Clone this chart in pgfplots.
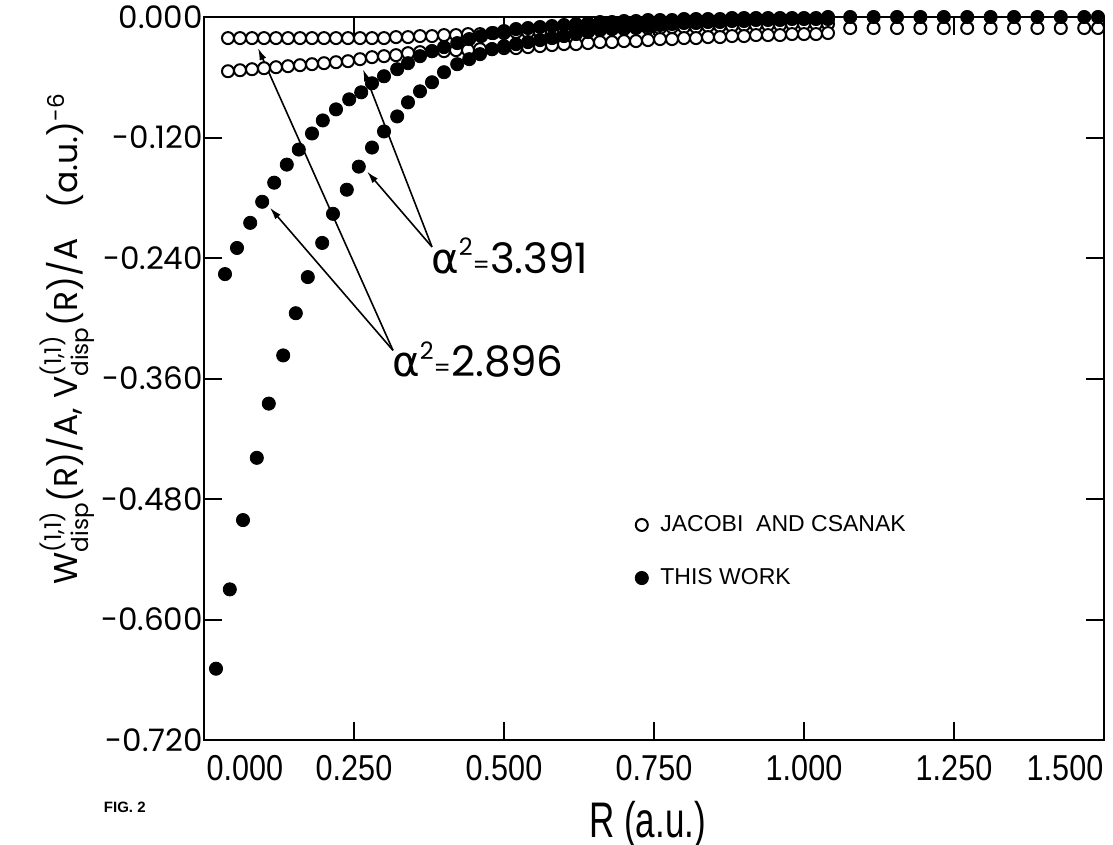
\documentclass[border=0pt]{standalone}
\usepackage{fontspec}
\setmainfont{Poppins}
\newfontfamily\greekfont{DejaVu Sans}
\newfontfamily\helv{Liberation Sans}
\usepackage{amsmath}
\usepackage{graphicx}
\usepackage{pgfplots}
\pgfplotsset{compat=1.18}
\usetikzlibrary{arrows.meta}

\newcommand\xt[1]{\scalebox{0.85}[1]{#1}}
\newcommand\alphasq{{\greekfont\char"03B1}\raisebox{0.75ex}{\fontsize{12}{12}\selectfont 2}}

\begin{document}
\begin{tikzpicture}
\useasboundingbox (-102pt,-52.5pt) rectangle (454.5pt,370pt);
\begin{axis}[
  at={(0,0)}, anchor=south west,
  scale only axis, width=450pt, height=361.5pt,
  xmin=0, xmax=1.5, ymin=-0.72, ymax=0,
  clip=false,
  axis line style={line width=1.2pt},
  tick style={line width=1pt, black},
  major tick length=9pt, tick align=inside,
  xtick={0.25,0.5,0.75,1,1.25},
  xticklabels={\xt{0.250},\xt{0.500},\xt{0.750},\xt{1.000},\xt{1.250}},
  extra x ticks={0.068,1.435},
  extra x tick labels={\xt{0.000},\xt{1.500}},
  extra x tick style={major tick length=0pt},
  x tick label style={font=\helv\fontsize{18}{20}\selectfont, yshift=-4pt},
  ytick={-0.72,-0.6,-0.48,-0.36,-0.24,-0.12,0},
  yticklabels={-0.720,-0.600,-0.480,-0.360,-0.240,-0.120,0.000},
  y tick label style={font=\fontsize{15.5}{18}\selectfont, xshift=3pt},
  xlabel={\scalebox{0.7}[1]{R (a.u.)}},
  xlabel style={at={(axis description cs:0.493,-0.117)}, anchor=center,
    font=\helv\fontsize{25}{28}\selectfont},
  ylabel={W$^{\text{(1,1)}}_{\text{disp}}$(R)/A, V$^{\text{(1,1)}}_{\text{disp}}$(R)/A\hspace{0.9em}(a.u.)$^{\text{-6}}$},
  ylabel style={at={(axis description cs:-0.152,0.555)}, anchor=center,
    font=\fontsize{16.5}{20}\selectfont},
  legend style={at={(axis cs:0.718,-0.492)}, anchor=north west, draw=none,
    fill=none, inner sep=0pt, row sep=13pt,
    font=\helv\fontsize{11.5}{13}\selectfont,
    /tikz/every odd column/.append style={column sep=4pt}},
  legend cell align=left,
  legend image code/.code={\draw[#1] plot coordinates {(0.15cm,0cm)};},
]
% Jacobi and Csanak, alpha^2 = 2.896 (upper open row)
\addplot[only marks, mark=*, mark size=3pt, mark options={fill=white, draw=black, line width=1pt}]
coordinates {
(0.04,-0.021) (0.06,-0.021) (0.08,-0.021) (0.10,-0.021) (0.12,-0.021) (0.14,-0.021)
(0.16,-0.021) (0.18,-0.021) (0.20,-0.021) (0.22,-0.021) (0.24,-0.021) (0.26,-0.021)
(0.28,-0.021) (0.30,-0.021) (0.32,-0.020) (0.34,-0.020) (0.36,-0.019) (0.38,-0.019)
(0.40,-0.018) (0.42,-0.018) (0.44,-0.017) (0.46,-0.017) (0.48,-0.016) (0.50,-0.016)
(0.52,-0.015) (0.54,-0.015) (0.56,-0.015) (0.58,-0.014) (0.60,-0.014) (0.62,-0.014)
(0.64,-0.013) (0.66,-0.013) (0.68,-0.012) (0.70,-0.012) (0.72,-0.011) (0.74,-0.011)
(0.76,-0.011) (0.78,-0.010) (0.80,-0.010) (0.82,-0.010) (0.84,-0.009) (0.86,-0.009)
(0.88,-0.009) (0.90,-0.008) (0.92,-0.008) (0.94,-0.008) (0.96,-0.008) (0.98,-0.007)
(1.00,-0.007) (1.02,-0.007) (1.04,-0.007)
};
\addlegendentry{JACOBI\ \ AND CSANAK}
% Jacobi and Csanak, alpha^2 = 3.391 (lower open row)
\addplot[only marks, mark=*, mark size=3pt, mark options={fill=white, draw=black, line width=1pt}, forget plot]
coordinates {
(0.04,-0.054) (0.06,-0.053) (0.08,-0.052) (0.10,-0.051) (0.12,-0.050) (0.14,-0.049)
(0.16,-0.048) (0.18,-0.047) (0.20,-0.046) (0.22,-0.045) (0.24,-0.044) (0.26,-0.042)
(0.28,-0.040) (0.30,-0.039) (0.32,-0.038) (0.34,-0.036) (0.36,-0.035) (0.38,-0.034)
(0.40,-0.034) (0.42,-0.033) (0.44,-0.033) (0.46,-0.032) (0.48,-0.032) (0.50,-0.031)
(0.52,-0.031) (0.54,-0.030) (0.56,-0.029) (0.58,-0.028) (0.60,-0.027) (0.62,-0.027)
(0.64,-0.026) (0.66,-0.025) (0.68,-0.025) (0.70,-0.024) (0.72,-0.024) (0.74,-0.023)
(0.76,-0.022) (0.78,-0.022) (0.80,-0.021) (0.82,-0.021) (0.84,-0.020) (0.86,-0.020)
(0.88,-0.019) (0.90,-0.019) (0.92,-0.018) (0.94,-0.018) (0.96,-0.018) (0.98,-0.017)
(1.00,-0.017) (1.02,-0.017) (1.04,-0.016)
(1.077,-0.011) (1.116,-0.011) (1.155,-0.011) (1.194,-0.011) (1.233,-0.011) (1.272,-0.011)
(1.311,-0.011) (1.350,-0.011) (1.389,-0.011) (1.428,-0.011) (1.467,-0.011) (1.490,-0.011)
};
% this work, alpha^2 = 2.896
\addplot[only marks, mark=*, mark size=3.3pt, mark options={fill=black, draw=black}]
coordinates {
(0.035,-0.256) (0.055,-0.230) (0.077,-0.205) (0.097,-0.184) (0.117,-0.165) (0.138,-0.147)
(0.158,-0.132) (0.180,-0.116) (0.198,-0.103) (0.220,-0.092) (0.242,-0.082) (0.262,-0.075)
(0.280,-0.066) (0.300,-0.059) (0.322,-0.052) (0.340,-0.046) (0.360,-0.039) (0.380,-0.034)
(0.400,-0.030) (0.422,-0.026) (0.442,-0.022) (0.462,-0.019) (0.482,-0.016) (0.50,-0.014)
(0.52,-0.012) (0.54,-0.011) (0.56,-0.010) (0.58,-0.009) (0.60,-0.008) (0.62,-0.007)
(0.64,-0.006) (0.66,-0.005) (0.68,-0.005) (0.70,-0.004) (0.72,-0.004) (0.74,-0.003)
(0.76,-0.003) (0.78,-0.003) (0.80,-0.002) (0.82,-0.002) (0.84,-0.002) (0.86,-0.002)
(0.88,-0.001) (0.90,-0.001) (0.92,-0.001) (0.94,-0.001) (0.96,-0.001) (0.98,-0.001)
(1.00,-0.001) (1.02,-0.001) (1.04,0.000)
(1.077,0.000) (1.116,0.000) (1.155,0.000) (1.194,0.000) (1.233,0.000) (1.272,0.000)
(1.311,0.000) (1.350,0.000) (1.389,0.000) (1.428,0.000) (1.467,0.000) (1.490,0.000)
};
\addlegendentry{THIS WORK}
% this work, alpha^2 = 3.391
\addplot[only marks, mark=*, mark size=3.3pt, mark options={fill=black, draw=black}, forget plot]
coordinates {
(0.020,-0.649) (0.043,-0.570) (0.065,-0.501) (0.088,-0.439) (0.108,-0.385) (0.132,-0.337)
(0.153,-0.295) (0.173,-0.259) (0.197,-0.225) (0.215,-0.196) (0.238,-0.172) (0.258,-0.149)
(0.280,-0.130) (0.300,-0.114) (0.322,-0.099) (0.340,-0.085) (0.360,-0.074) (0.380,-0.065)
(0.400,-0.055) (0.422,-0.047) (0.442,-0.042) (0.460,-0.037) (0.480,-0.032) (0.50,-0.029)
(0.52,-0.027) (0.54,-0.025) (0.56,-0.023) (0.58,-0.021) (0.60,-0.019) (0.62,-0.017)
(0.64,-0.015) (0.66,-0.013) (0.68,-0.012) (0.70,-0.011) (0.72,-0.010) (0.74,-0.009)
(0.76,-0.008) (0.78,-0.007) (0.80,-0.006) (0.82,-0.006) (0.84,-0.005) (0.86,-0.005)
(0.88,-0.004) (0.90,-0.004) (0.92,-0.003) (0.94,-0.003) (0.96,-0.003) (0.98,-0.002)
(1.00,-0.002) (1.02,-0.002) (1.04,-0.002)
};
% annotations
\draw[line width=0.8pt, -{Latex[length=6pt,width=3.5pt]}] (axis cs:0.380,-0.229) -- (axis cs:0.265,-0.052);
\draw[line width=0.8pt, -{Latex[length=6pt,width=3.5pt]}] (axis cs:0.380,-0.229) -- (axis cs:0.272,-0.154);
\draw[line width=0.8pt, -{Latex[length=6pt,width=3.5pt]}] (axis cs:0.315,-0.332) -- (axis cs:0.110,-0.190);
\draw[line width=0.8pt, -{Latex[length=6pt,width=3.5pt]}] (axis cs:0.315,-0.332) -- (axis cs:0.090,-0.031);
\node[anchor=west, inner sep=0pt, font=\fontsize{21}{24}\selectfont]
  at (axis cs:0.378,-0.238) {\alphasq{\fontsize{12}{12}\selectfont=}3.391};
\node[anchor=west, inner sep=0pt, font=\fontsize{21}{24}\selectfont]
  at (axis cs:0.313,-0.341) {\alphasq{\fontsize{12}{12}\selectfont=}2.896};
\node[font=\helv\bfseries\fontsize{7.5}{9}\selectfont] at (axis description cs:-0.088,-0.093) {FIG. 2};
\end{axis}
\end{tikzpicture}
\end{document}
